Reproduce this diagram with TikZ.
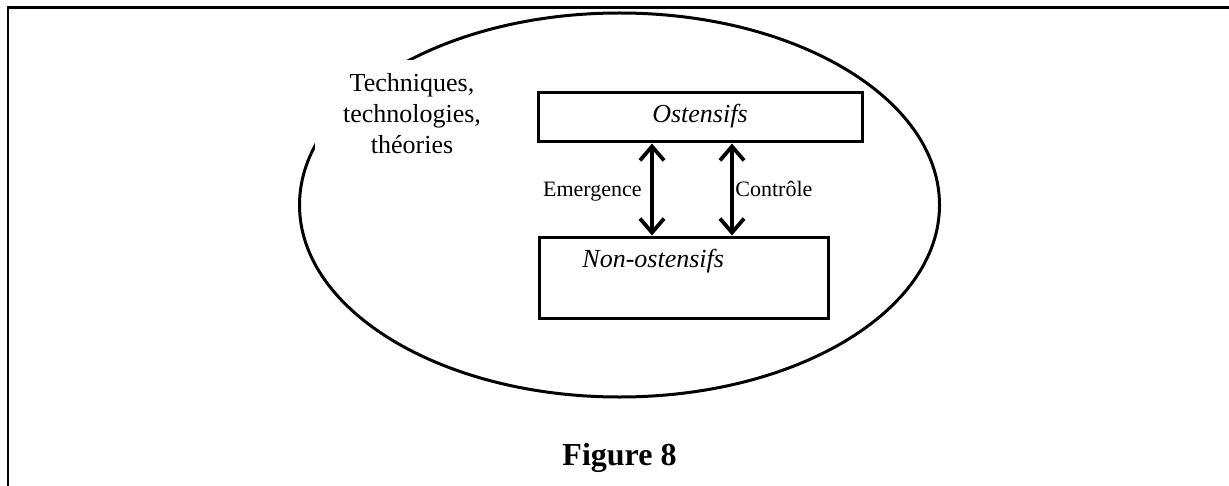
\documentclass[tikz,border=0pt]{standalone}
\usepackage{fontspec}
\setmainfont{Liberation Serif}
\usetikzlibrary{arrows.meta,shapes.geometric}
\begin{document}
\begin{tikzpicture}[x=0.5pt,y=-0.5pt,
  frame/.style={line width=1.2pt},
  boxstyle/.style={draw,line width=1.5pt,inner sep=0pt},
  dbl/.style={line width=1.9pt,{Straight Barb[length=7pt,width=12pt]}-{Straight Barb[length=7pt,width=12pt]}},
  lab/.style={font=\fontsize{11}{13}\selectfont,inner sep=0pt}]
\useasboundingbox (0,0) rectangle (1229,486);
% open frame
\coordinate (fr1) at (8,486);
\coordinate (fr2) at (8,7.5);
\coordinate (fr3) at (1229,7.5);
\draw[frame,line join=miter] (fr1) -- (fr2) -- (fr3);
% ellipse
\node[draw,ellipse,line width=1.5pt,minimum width=320pt,minimum height=192pt,inner sep=0pt] (ell) at (619.5,205) {};
% white label covering the ellipse
\node[fill=white,inner sep=0pt,minimum width=97pt,minimum height=52pt] (tech) at (412,112) {};
\node[align=center,inner sep=0pt,font=\fontsize{13}{15.5}\selectfont] (techtxt) at (412,114) {Techniques,\\technologies,\\théories};
% boxes
\node[boxstyle,minimum width=162pt,minimum height=24.5pt] (ost) at (700,117.5) {};
\node[inner sep=0pt,font=\fontsize{13}{15}\selectfont\itshape,anchor=base] (osttxt) at (700,122.5) {Ostensifs};
\node[boxstyle,minimum width=144.5pt,minimum height=40.5pt] (non) at (683.5,277.5) {};
\node[inner sep=0pt,font=\fontsize{13}{15}\selectfont\itshape,anchor=base west] (nontxt) at (582,267) {Non-ostensifs};
% arrows
\coordinate (a1) at (652,0);
\coordinate (a2) at (732,0);
\draw[dbl] (ost.south -| a1) -- (non.north -| a1);
\draw[dbl] (ost.south -| a2) -- (non.north -| a2);
\node[lab,anchor=base east] (em) at (642,197) {Emergence};
\node[lab,anchor=base west] (co) at (735,197) {Contrôle};
% caption
\node[inner sep=0pt,font=\fontsize{16}{19}\selectfont\bfseries,anchor=base] (cap) at (619.5,465) {Figure 8};
\end{tikzpicture}
\end{document}
